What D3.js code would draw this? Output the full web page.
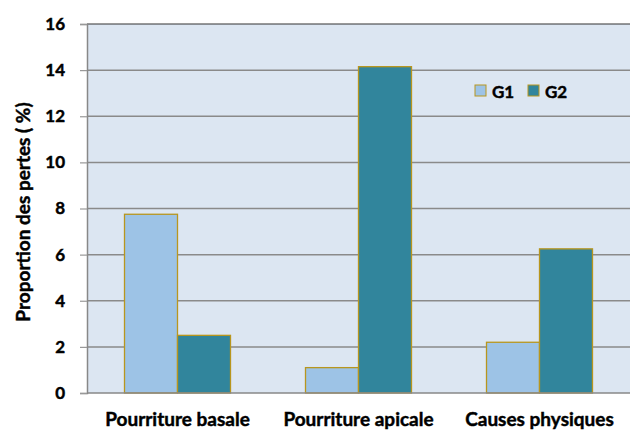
<!DOCTYPE html>
<html><head><meta charset="utf-8">
<script src="https://cdn.jsdelivr.net/npm/d3@7"></script>
<style>body{margin:0;background:#fff}svg{display:block}
text{stroke:#000;stroke-width:0.45px}</style>
</head><body>
<script>
const categories = ["Pourriture basale", "Pourriture apicale", "Causes physiques"];
const seriesNames = ["G1", "G2"];
const g1Values = [7.75, 1.1, 2.2];
const g2Values = [2.5, 14.15, 6.25];
const yTicks = [0, 2, 4, 6, 8, 10, 12, 14, 16];
const colors = ["#9DC3E6", "#31859C"];

const W = 632, H = 431;
const m = {left: 87, right: 2, top: 24, bottom: 38};
const svg = d3.select("body").append("svg").attr("width", W).attr("height", H);
const font = "Lato, 'Open Sans', sans-serif";

const x0 = d3.scaleBand().domain(categories).range([m.left, W - m.right]).paddingInner(0).paddingOuter(0);
const x1 = d3.scaleBand().domain(seriesNames).range([0, 106]);
const y = d3.scaleLinear().domain([0, 16]).range([H - m.bottom, m.top]);

svg.append("rect").attr("x", m.left).attr("y", m.top).attr("width", W - m.right - m.left)
  .attr("height", H - m.bottom - m.top).attr("fill", "#DCE6F2");

// gridlines
svg.append("g").selectAll("line").data(yTicks.filter(d => d > 0)).join("line")
  .attr("x1", m.left).attr("x2", W - m.right)
  .attr("y1", d => y(d)).attr("y2", d => y(d))
  .attr("stroke", d => d === 16 ? "#333" : "#8a8a8a").attr("stroke-width", d => d === 16 ? 1.2 : 1.5);

// y axis
const ya = svg.append("g").attr("transform", `translate(${m.left},0)`)
  .call(d3.axisLeft(y).tickValues(yTicks).tickSize(7).tickPadding(15));
ya.select(".domain").attr("stroke", "#888").attr("stroke-width", 1.5);
ya.selectAll(".tick line").attr("stroke", "#999").attr("stroke-width", 1.2);
ya.selectAll("text").attr("font-family", font).attr("font-weight", "bold").attr("font-size", 17).attr("fill", "#000");

// bars
const data = categories.map((c, i) => ({c, vals: [g1Values[i], g2Values[i]]}));
const grp = svg.append("g").selectAll("g").data(data).join("g")
  .attr("transform", d => `translate(${x0(d.c) + x0.bandwidth() / 2 - 53},0)`);
grp.selectAll("rect").data(d => d.vals.map((v, j) => ({s: seriesNames[j], v, j}))).join("rect")
  .attr("x", d => x1(d.s)).attr("width", x1.bandwidth())
  .attr("y", d => y(d.v)).attr("height", d => y(0) - y(d.v))
  .attr("fill", d => colors[d.j]).attr("stroke", "#B8961E").attr("stroke-width", 1.3);

// baseline
svg.append("line").attr("x1", m.left).attr("x2", W - m.right).attr("y1", y(0)).attr("y2", y(0))
  .attr("stroke", "#888").attr("stroke-width", 1.5);

// x labels
const xa = svg.append("g").attr("transform", `translate(0,${y(0)})`)
  .call(d3.axisBottom(x0).tickSize(0).tickPadding(20));
xa.select(".domain").remove();
xa.selectAll("text").attr("font-family", font).attr("font-weight", "bold").attr("font-size", 19).attr("fill", "#000");

// y title
svg.append("text").attr("transform", `translate(30,212) rotate(-90)`)
  .attr("text-anchor", "middle").attr("font-family", font).attr("font-weight", "bold").attr("font-size", 19)
  .text("Proportion des pertes ( %)");

// legend
const lg = svg.append("g").selectAll("g").data(seriesNames).join("g")
  .attr("transform", (d, i) => `translate(${475 + i * 53},85)`);
lg.append("rect").attr("width", 11).attr("height", 11).attr("fill", (d, i) => colors[i])
  .attr("stroke", "#B8961E").attr("stroke-width", 1);
lg.append("text").attr("x", 17).attr("y", 13).attr("font-family", font).attr("font-weight", "bold")
  .attr("font-size", 17).text(d => d);
</script>
</body></html>
